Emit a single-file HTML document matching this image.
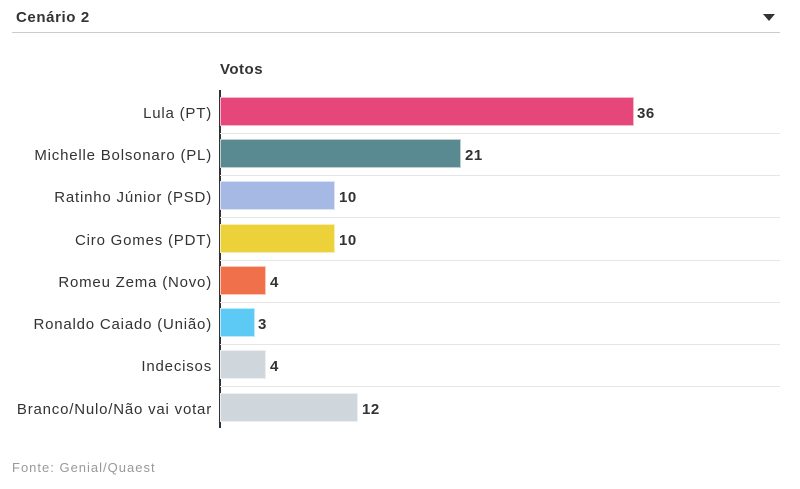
<!DOCTYPE html>
<html><head><meta charset="utf-8"><style>
body{margin:0;width:800px;height:489px;background:#fff;font-family:"Liberation Sans",sans-serif;position:relative;overflow:hidden}
.a{position:absolute}
.lbl{position:absolute;right:588px;font-size:15px;letter-spacing:0.8px;color:#333;white-space:nowrap;line-height:16px;margin-top:2px}
.bar{position:absolute;left:220px;height:29px;box-sizing:border-box;border:1px solid rgba(255,255,255,.6)}
.val{position:absolute;font-size:15px;font-weight:bold;color:#333;line-height:16px;letter-spacing:0.5px;margin-top:2px}
.sep{position:absolute;left:220px;width:560px;height:1px;background:#e6e6e6}
</style></head><body>
<div class="a" style="left:16px;top:9px;font-size:15px;font-weight:bold;color:#333;letter-spacing:0.6px">Cenário 2</div>
<div class="a" style="left:763px;top:14px;width:0;height:0;border-left:6px solid transparent;border-right:6px solid transparent;border-top:7px solid #333"></div>
<div class="a" style="left:12px;top:32px;width:768px;height:1px;background:#ccc"></div>
<div class="a" style="left:220px;top:61px;font-size:15px;font-weight:bold;color:#333;letter-spacing:0.5px">Votos</div>
<div class="a" style="left:219px;top:90px;width:2px;height:338px;background:#333"></div>

<div class="sep" style="top:133px"></div><div class="sep" style="top:175px"></div><div class="sep" style="top:217px"></div><div class="sep" style="top:260px"></div><div class="sep" style="top:302px"></div><div class="sep" style="top:344px"></div><div class="sep" style="top:386px"></div>

<div class="lbl" style="top:104px">Lula (PT)</div>
<div class="bar" style="top:97px;width:414px;background:#e5477a"></div>
<div class="val" style="left:637px;top:104px">36</div>

<div class="lbl" style="top:146px">Michelle Bolsonaro (PL)</div>
<div class="bar" style="top:139px;width:241px;background:#5a8a91"></div>
<div class="val" style="left:465px;top:146px">21</div>

<div class="lbl" style="top:188px">Ratinho Júnior (PSD)</div>
<div class="bar" style="top:181px;width:115px;background:#a6b8e4"></div>
<div class="val" style="left:339px;top:188px">10</div>

<div class="lbl" style="top:231px">Ciro Gomes (PDT)</div>
<div class="bar" style="top:224px;width:115px;background:#ecd13a"></div>
<div class="val" style="left:339px;top:231px">10</div>

<div class="lbl" style="top:273px">Romeu Zema (Novo)</div>
<div class="bar" style="top:266px;width:46px;background:#f0704b"></div>
<div class="val" style="left:270px;top:273px">4</div>

<div class="lbl" style="top:315px">Ronaldo Caiado (União)</div>
<div class="bar" style="top:308px;width:35px;background:#5ccaf5"></div>
<div class="val" style="left:258px;top:315px">3</div>

<div class="lbl" style="top:357px">Indecisos</div>
<div class="bar" style="top:350px;width:46px;background:#cfd7dc"></div>
<div class="val" style="left:270px;top:357px">4</div>

<div class="lbl" style="top:400px">Branco/Nulo/Não vai votar</div>
<div class="bar" style="top:393px;width:138px;background:#cfd7dc"></div>
<div class="val" style="left:362px;top:400px">12</div>

<div class="a" style="left:12px;top:460px;font-size:13px;letter-spacing:1px;color:#999">Fonte: Genial/Quaest</div>
</body></html>
